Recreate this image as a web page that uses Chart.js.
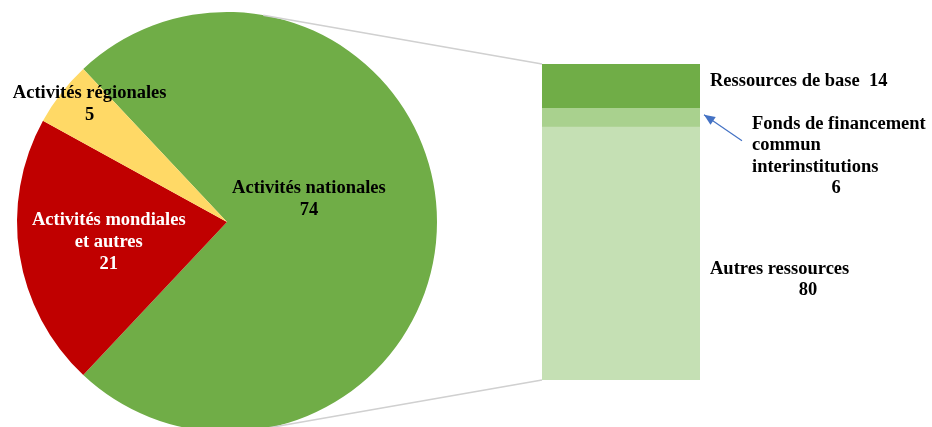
<!DOCTYPE html>
<html>
<head>
<meta charset="utf-8">
<script src="https://cdn.jsdelivr.net/npm/chart.js@4"></script>
<style>
  body { margin: 0; background: #fff; }
  #wrap { position: relative; width: 932px; height: 427px; overflow: hidden; }
  #pieCanvas { position: absolute; left: 0; top: 0; }
  #barCanvas { position: absolute; left: 542px; top: 64px; z-index: 2; }
</style>
</head>
<body>
<div id="wrap">
  <canvas id="pieCanvas" width="932" height="440"></canvas>
  <canvas id="barCanvas" width="158" height="316"></canvas>
</div>
<script>
// pie : répartition des activités
const pieLabels = ['Activités nationales', 'Activités mondiales et autres', 'Activités régionales'];
const pieValues = [74, 21, 5];
const pieColors = ['#70AD47', '#C00000', '#FFD966'];

// barre empilée : sources de financement (du bas vers le haut)
const barLabels = ['Autres ressources', 'Fonds de financement commun interinstitutions', 'Ressources de base'];
const barValues = [80, 6, 14];
const barColors = ['#C5E0B4', '#A9D18E', '#70AD47'];

const FONT = 'bold 18.5px "Liberation Serif", "Times New Roman", serif';

// green slice centred on the right side
const pieTotal = pieValues.reduce((a, b) => a + b, 0);
const pieRotation = 90 - (pieValues[0] / pieTotal) * 180;

const barChart = new Chart(document.getElementById('barCanvas'), {
  type: 'bar',
  data: {
    labels: [''],
    datasets: barLabels.map((l, i) => ({
      label: l,
      data: [barValues[i]],
      backgroundColor: barColors[i],
      borderWidth: 0,
      barPercentage: 1,
      categoryPercentage: 1
    }))
  },
  options: {
    responsive: false,
    animation: false,
    layout: { padding: 0 },
    plugins: { legend: { display: false }, tooltip: { enabled: false } },
    scales: {
      x: { stacked: true, display: false },
      y: { stacked: true, display: false, min: 0, max: 100 }
    }
  }
});

function drawLines(ctx, lines, x, y, lh, align, color) {
  ctx.fillStyle = color;
  ctx.textAlign = align;
  lines.forEach((t, i) => ctx.fillText(t, x, y + i * lh));
}

const overlay = {
  id: 'overlay',
  afterDraw(chart) {
    const ctx = chart.ctx;
    const arcs = chart.getDatasetMeta(0).data;
    const cx = arcs[0].x, cy = arcs[0].y, r = arcs[0].outerRadius;

    // bar position on the page
    const bc = document.getElementById('barCanvas');
    const ox = bc.offsetLeft, oy = bc.offsetTop;
    const segs = barChart.data.datasets.map((d, i) => {
      const el = barChart.getDatasetMeta(i).data[0];
      return { left: ox + el.x - el.width / 2, right: ox + el.x + el.width / 2, top: oy + el.y, bottom: oy + el.base };
    });
    const barTop = segs[segs.length - 1].top, barBottom = segs[0].bottom, barLeft = segs[0].left, barRight = segs[0].right;

    // connector lines tangent to the pie
    ctx.save();
    ctx.strokeStyle = '#D0D0D0';
    ctx.lineWidth = 1.5;
    [[barTop, -1], [barBottom, 1]].forEach(([py, s]) => {
      const dx = barLeft - cx, dy = py - cy;
      const d = Math.hypot(dx, dy);
      const a = Math.atan2(dy, dx) + s * Math.acos(r / d);
      ctx.beginPath();
      ctx.moveTo(cx + r * Math.cos(a), cy + r * Math.sin(a));
      ctx.lineTo(barLeft, py);
      ctx.stroke();
    });
    ctx.restore();

    // pie labels
    ctx.save();
    ctx.font = FONT;
    ctx.textBaseline = 'middle';
    const pieText = [
      { lines: ['Activités nationales', String(pieValues[0])], f: 0.39, dx: 0, dy: -34, color: '#000' },
      { lines: ['Activités mondiales', 'et autres', String(pieValues[1])], f: 0.57, dx: 0, dy: -21, color: '#fff' },
      { lines: ['Activités régionales', String(pieValues[2])], f: 0.9, dx: 12, dy: -13, color: '#000' }
    ];
    pieText.forEach((p, i) => {
      const a = arcs[i];
      const mid = (a.startAngle + a.endAngle) / 2;
      const x = cx + Math.cos(mid) * r * p.f + p.dx;
      const y = cy + Math.sin(mid) * r * p.f + p.dy;
      drawLines(ctx, p.lines, x, y, 22, 'center', p.color);
    });

    // bar labels
    const tx = barRight + 10;
    const base = segs[2], fonds = segs[1], autres = segs[0];
    ctx.textAlign = 'left';
    ctx.fillStyle = '#000';
    ctx.fillText('Ressources de base  ' + barValues[2], tx, (base.top + base.bottom) / 2 - 5);

    const fy = (fonds.top + fonds.bottom) / 2;
    drawLines(ctx, ['Fonds de financement', 'commun', 'interinstitutions'], tx + 42, fy + 6, 21.5, 'left', '#000');
    drawLines(ctx, [String(barValues[1])], tx + 126, fy + 70, 21, 'center', '#000');

    const ay = (autres.top + autres.bottom) / 2;
    drawLines(ctx, ['Autres ressources'], tx, ay + 16, 21, 'left', '#000');
    drawLines(ctx, [String(barValues[0])], tx + 98, ay + 37, 21, 'center', '#000');

    // arrow to the small segment
    const x1 = tx + 32, y1 = fy + 23, x2 = barRight + 4, y2 = fy - 3;
    ctx.strokeStyle = '#4472C4';
    ctx.fillStyle = '#4472C4';
    ctx.lineWidth = 1.2;
    ctx.beginPath();
    ctx.moveTo(x1, y1);
    ctx.lineTo(x2, y2);
    ctx.stroke();
    const ang = Math.atan2(y2 - y1, x2 - x1);
    ctx.beginPath();
    ctx.moveTo(x2, y2);
    ctx.lineTo(x2 - 12 * Math.cos(ang - 0.4), y2 - 12 * Math.sin(ang - 0.4));
    ctx.lineTo(x2 - 12 * Math.cos(ang + 0.4), y2 - 12 * Math.sin(ang + 0.4));
    ctx.closePath();
    ctx.fill();
    ctx.restore();
  }
};

new Chart(document.getElementById('pieCanvas'), {
  type: 'pie',
  data: {
    labels: pieLabels,
    datasets: [{
      data: pieValues,
      backgroundColor: pieColors,
      borderWidth: 0
    }]
  },
  options: {
    responsive: false,
    animation: false,
    rotation: pieRotation,
    layout: { padding: { left: 17, right: 495, top: 12, bottom: 8 } },
    plugins: { legend: { display: false }, tooltip: { enabled: false } }
  },
  plugins: [overlay]
});
</script>
</body>
</html>
